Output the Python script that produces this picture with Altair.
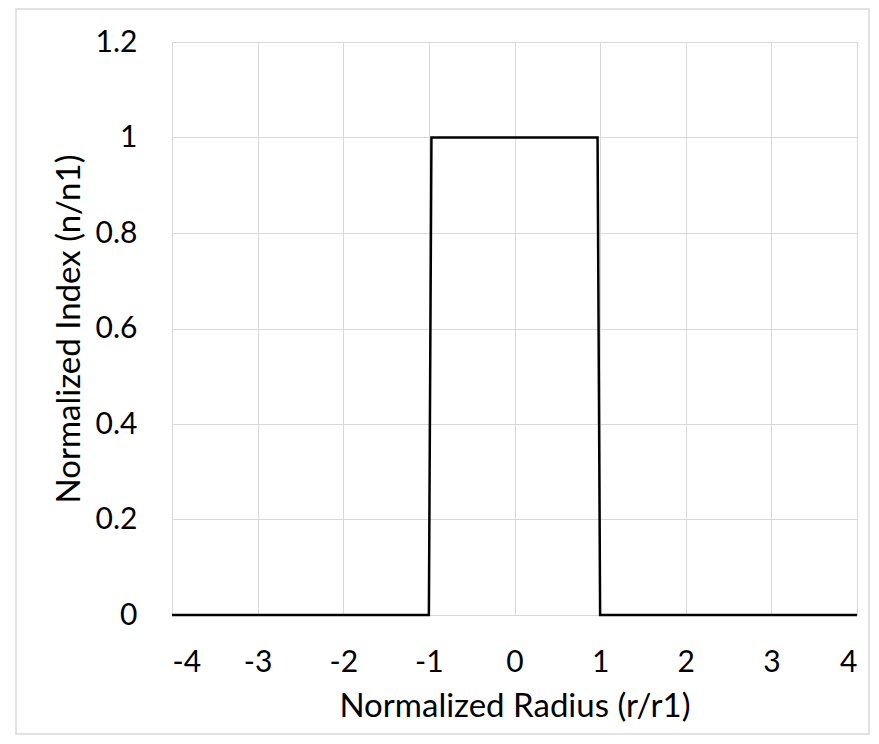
import altair as alt
import pandas as pd

radius = [-4, -1, -0.97, 0.97, 1, 4]
index = [0, 0, 1, 1, 0, 0]

df = pd.DataFrame({"r": radius, "n": index, "o": list(range(len(radius)))})

FONT = "Lato"

line = alt.Chart(df).mark_line(color="black", strokeWidth=2.5).encode(
    x=alt.X("r:Q", scale=alt.Scale(domain=[-4, 4], nice=False),
            axis=alt.Axis(title="Normalized Radius (r/r1)", values=[-4, -3, -2, -1, 0, 1, 2, 3, 4],
                          labelExpr="toString(datum.value)", labelPadding=32, titlePadding=13)),
    y=alt.Y("n:Q", scale=alt.Scale(domain=[0, 1.2], nice=False),
            axis=alt.Axis(title="Normalized Index (n/n1)", values=[0, 0.2, 0.4, 0.6, 0.8, 1, 1.2],
                          labelExpr="toString(datum.value)",
                          labelPadding=35, titlePadding=9)),
    order="o:Q",
)

border = alt.Chart(pd.DataFrame({"a": [0]})).mark_rect(
    fill=None, stroke="#d9d9d9", strokeWidth=1.5
).encode(
    x=alt.value(-156), x2=alt.value(697), y=alt.value(-33), y2=alt.value(692)
)

chart = alt.layer(border, line).properties(
    width=685, height=573,
    autosize=alt.AutoSizeParams(type="none"),
    padding={"left": 164, "top": 34, "right": 14, "bottom": 120},
).configure(background="white").configure_view(
    stroke="#d9d9d9", strokeWidth=1
).configure_axis(
    domain=False, ticks=False, grid=True, gridColor="#d9d9d9", gridWidth=1,
    labelFont=FONT, titleFont=FONT, labelFontSize=30, titleFontSize=33,
    labelColor="black", titleColor="black", titleFontWeight="normal",
)

chart.save("out.html", embed_options={"renderer": "svg", "actions": False})
